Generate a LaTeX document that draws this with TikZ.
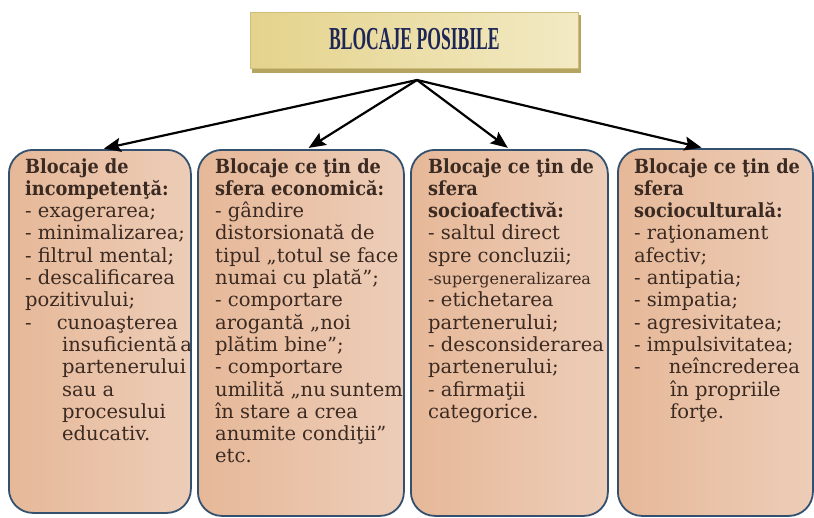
\documentclass[tikz,border=0pt]{standalone}
\usepackage{fontspec}
\setmainfont{DejaVu Serif}[BoldFeatures={FakeStretch=0.91}]
\newfontfamily\titlefont[FakeStretch=0.55]{Liberation Serif}
\usetikzlibrary{arrows.meta,shadings}
\definecolor{txtbrown}{HTML}{3B2A22}
\definecolor{titlenavy}{HTML}{1E2656}
\definecolor{boxedge}{HTML}{34506F}
\definecolor{boxleft}{HTML}{E6B898}
\definecolor{boxmid}{HTML}{E0A783}
\definecolor{boxright}{HTML}{EDCDB8}
\definecolor{goldleft}{HTML}{E4D38C}
\definecolor{goldright}{HTML}{F3EAC4}
\definecolor{goldshadow}{HTML}{B5A45F}
\definecolor{goldedge}{HTML}{CDBD7A}
\begin{document}
\begin{tikzpicture}[x=1pt,y=-1pt,
  cardbox/.style={draw=boxedge,line width=1.8pt,rounded corners=24pt,
    left color=boxleft,middle color=boxmid,right color=boxright},
  cardtext/.style={anchor=north west,inner sep=0pt,align=left,text=txtbrown,
    font=\fontsize{19.5}{22.3}\selectfont},
  link/.style={line width=2.2pt,-{Stealth[length=17pt,width=14pt,inset=3pt]},shorten >=2pt}]
\useasboundingbox (0,0) rectangle (814,517);
% title
\fill[goldshadow] (252,15) rectangle (581,73);
\node[draw=goldedge,line width=0.8pt,left color=goldleft,right color=goldright,
  minimum width=328pt,minimum height=56pt,anchor=north west,inner sep=0pt]
  (title) at (250,12) {};
\node[text=titlenavy,font=\titlefont\bfseries\fontsize{32}{34}\selectfont]
  (titletext) at ([yshift=1pt]title.center) {BLOCAJE POSIBILE};
\coordinate (hub) at (417,80);
% boxes
\node[cardbox,minimum width=182pt,minimum height=363pt,anchor=north west,inner sep=0pt] (b1) at (8,149) {};
\node[cardbox,minimum width=206pt,minimum height=366pt,anchor=north west,inner sep=0pt] (b2) at (197,149) {};
\node[cardbox,minimum width=197pt,minimum height=366pt,anchor=north west,inner sep=0pt] (b3) at (410,149) {};
\node[cardbox,minimum width=195pt,minimum height=367pt,anchor=north west,inner sep=0pt] (b4) at (617,148) {};
% texts
\node[cardtext] (t1) at (25,158) {\textbf{Blocaje de}\\ \textbf{incompetenţă:}\\ - exagerarea;\\ - minimalizarea;\\ - filtrul mental;\\ - descalificarea\\ pozitivului;\\ -\hspace{25pt}cunoaşterea\\ \hspace{37pt}insuficientă\hspace{3pt}a\\ \hspace{37pt}partenerului\\ \hspace{37pt}sau a\\ \hspace{37pt}procesului\\ \hspace{37pt}educativ.};
\node[cardtext] (t2) at (215,158) {\textbf{Blocaje ce ţin de}\\ \textbf{sfera economică:}\\ - gândire\\ distorsionată de\\ tipul „totul se face\\ numai cu plată”;\\ - comportare\\ arogantă „noi\\ plătim bine”;\\ - comportare\\ umilită „nu\hspace{4pt}suntem\\ în stare a crea\\ anumite condiţii”\\ etc.};
\node[cardtext] (t3) at (428,158) {\textbf{Blocaje ce ţin de}\\ \textbf{sfera}\\ \textbf{socioafectivă:}\\ - saltul direct\\ spre concluzii;\\ {\fontsize{16}{22.3}\selectfont -supergeneralizarea}\\ - etichetarea\\ partenerului;\\ - desconsiderarea\\ partenerului;\\ - afirmaţii\\ categorice.};
\node[cardtext] (t4) at (634,158) {\textbf{Blocaje ce ţin de}\\ \textbf{sfera}\\ \textbf{socioculturală:}\\ - raţionament\\ afectiv;\\ - antipatia;\\ - simpatia;\\ - agresivitatea;\\ - impulsivitatea;\\ -\hspace{28pt}neîncrederea\\ \hspace{36pt}în propriile\\ \hspace{36pt}forţe.};
% arrows
\draw[link] (hub) -- ([xshift=2pt]b1.north);
\draw[link] (hub) -- ([xshift=6pt]b2.north);
\draw[link] (hub) -- (b3.north);
\draw[link] (hub) -- ([xshift=-12pt]b4.north);
\end{tikzpicture}
\end{document}
